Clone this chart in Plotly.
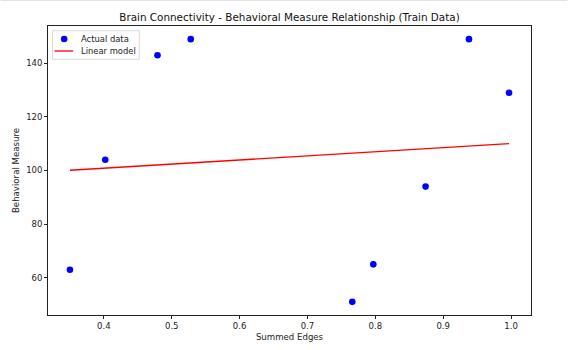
import plotly.graph_objects as go

# Training data: summed connectivity edges vs. behavioral score
summed_edges = [0.350, 0.402, 0.479, 0.528, 0.766, 0.797, 0.874, 0.938, 0.997]
behavioral = [63, 104, 143, 149, 51, 65, 94, 149, 129]

# Linear model predictions at each x
model_pred = [100.1, 100.9, 102.1, 102.8, 106.5, 107.0, 108.1, 109.1, 110.0]

W, H = 568, 350
L, R, T, B = 47.5, 36.5, 26, 35
font = "DejaVu Sans, Liberation Sans, sans-serif"


def pad_range(vals, frac=0.05):
    lo, hi = min(vals), max(vals)
    p = (hi - lo) * frac
    return [lo - p, hi + p]


fig = go.Figure()

order = sorted(range(len(summed_edges)), key=lambda i: summed_edges[i])
fig.add_trace(go.Scatter(
    x=[summed_edges[i] for i in order], y=[model_pred[i] for i in order],
    mode="lines", line=dict(color="red", width=1.3),
    name="Linear model", showlegend=False,
))
fig.add_trace(go.Scatter(
    x=summed_edges, y=behavioral, mode="markers",
    marker=dict(color="blue", size=6.6, line=dict(width=0)),
    name="Actual data", showlegend=False,
))

pw, ph = W - L - R, H - T - B


def px_x(p):
    return (p - L) / pw


def px_y(p):
    return (H - B - p) / ph


shapes = [
    # thin strip along the top edge of the page
    dict(type="line", xref="paper", yref="paper",
         x0=px_x(0), x1=px_x(W), y0=px_y(0.5), y1=px_y(0.5),
         line=dict(color="#e3e3e3", width=1)),
    # legend frame
    dict(type="rect", xref="paper", yref="paper",
         x0=px_x(52), x1=px_x(139), y0=px_y(59.3), y1=px_y(30.7),
         line=dict(color="#d0d0d0", width=0.8), fillcolor="rgba(255,255,255,0.8)"),
    # legend marker for actual data
    dict(type="circle", xref="paper", yref="paper",
         xsizemode="pixel", ysizemode="pixel",
         xanchor=px_x(63.7), yanchor=px_y(39),
         x0=-3.3, x1=3.3, y0=-3.3, y1=3.3,
         fillcolor="blue", line=dict(width=0)),
    # legend line for the linear model
    dict(type="line", xref="paper", yref="paper",
         x0=px_x(54), x1=px_x(72.7), y0=px_y(51), y1=px_y(51),
         line=dict(color="red", width=1.3)),
]

annotations = [
    dict(text="Actual data", xref="paper", yref="paper",
         x=px_x(78.5), y=px_y(39), xanchor="left", yanchor="middle",
         showarrow=False, font=dict(size=8.4, color="#222", family=font)),
    dict(text="Linear model", xref="paper", yref="paper",
         x=px_x(78.5), y=px_y(51), xanchor="left", yanchor="middle",
         showarrow=False, font=dict(size=8.4, color="#222", family=font)),
]

axis_common = dict(
    showline=True, linecolor="#222", linewidth=0.8, mirror=True,
    ticks="outside", ticklen=3, tickwidth=0.7, tickcolor="#222",
    showgrid=False, zeroline=False,
    tickfont=dict(size=8.5, color="#222", family=font),
)

fig.update_layout(
    width=W, height=H,
    margin=dict(l=L, r=R, t=T, b=B, autoexpand=False),
    paper_bgcolor="white", plot_bgcolor="white",
    title=dict(text="Brain Connectivity - Behavioral Measure Relationship (Train Data)",
               x=(L + pw / 2) / W, xanchor="center", y=1 - 17 / H, yanchor="middle",
               font=dict(size=10.4, color="#111", family=font)),
    xaxis=dict(range=pad_range(summed_edges), tickvals=[0.4, 0.5, 0.6, 0.7, 0.8, 0.9, 1.0],
               ticktext=["0.4", "0.5", "0.6", "0.7", "0.8", "0.9", "1.0"],
               title=dict(text="Summed Edges", standoff=3,
                          font=dict(size=8.6, color="#222", family=font)),
               automargin=False, **axis_common),
    yaxis=dict(range=pad_range(behavioral), tickvals=[60, 80, 100, 120, 140],
               title=dict(text="Behavioral Measure", standoff=5,
                          font=dict(size=8.6, color="#222", family=font)),
               automargin=False, **axis_common),
    shapes=shapes, annotations=annotations,
    showlegend=False,
)

fig.write_html("out.html")
